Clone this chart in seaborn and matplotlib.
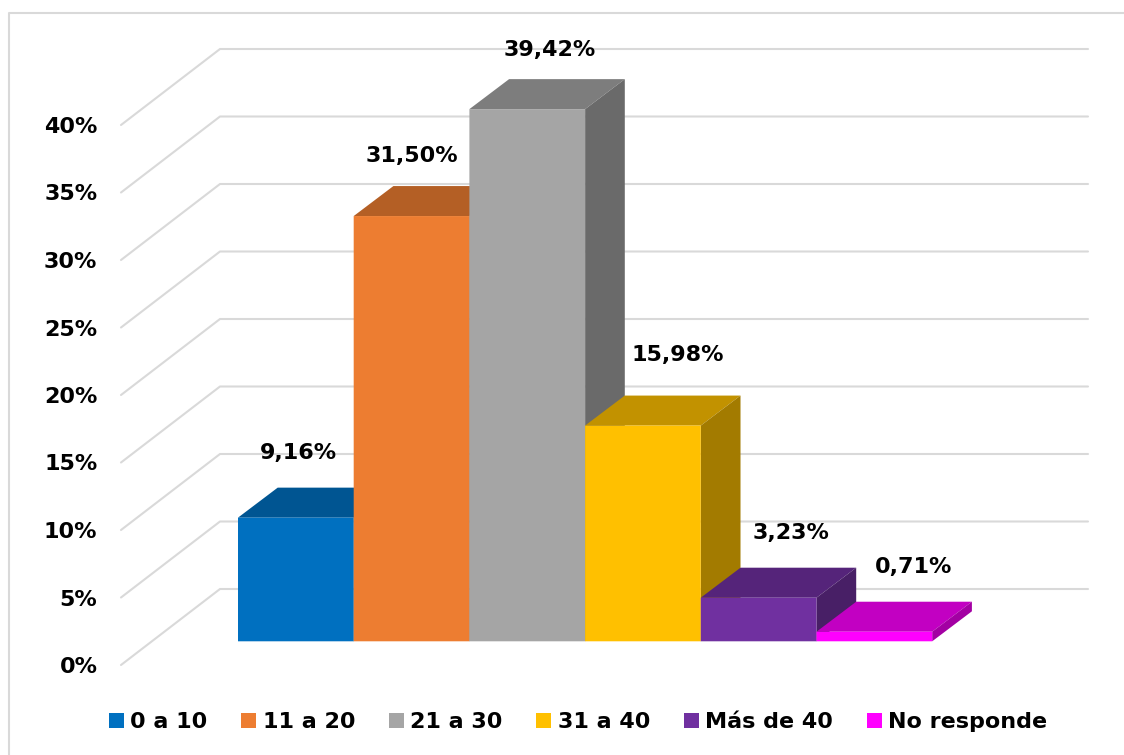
import matplotlib
matplotlib.use("Agg")
import matplotlib.pyplot as plt
import seaborn as sns
from matplotlib.colors import to_rgb
from matplotlib.lines import Line2D

# chart data
categories = ["0 a 10", "11 a 20", "21 a 30", "31 a 40", "Más de 40", "No responde"]
values = [9.16, 31.50, 39.42, 15.98, 3.23, 0.71]
value_labels = ["9,16%", "31,50%", "39,42%", "15,98%", "3,23%", "0,71%"]
ticks = [0, 5, 10, 15, 20, 25, 30, 35, 40]
colors = ["#0070C0", "#ED7D31", "#A5A5A5", "#FFC000", "#7030A0", "#FF00FF"]

# label nudges from the bar's front top corner centre, in pixels
label_dx = [3, 0, 22, 35, 32, 39]
label_dy = [65, 60, 59, 71, 65, 65]

W, H = 1124, 755
PX_PER_PCT = 13.5
PX_PER_CAT = 115.7
BASE_Y = 641.3  # pixel row of the bars' base
LEFT, RIGHT, BOTTOM, TOP = 121, 1088, 665, 45

# 3d look, in data units
bar_dx = 39.7 / PX_PER_CAT
bar_dy = 30 / PX_PER_PCT
wall_dx = 99 / PX_PER_CAT
front_shift = (BASE_Y - BOTTOM) / PX_PER_PCT
back_shift = (BASE_Y - 589) / PX_PER_PCT

sns.set_theme(style="white")
plt.rcParams["font.family"] = ["DejaVu Sans"]
plt.rcParams["font.weight"] = "bold"
FS = 16

fig = plt.figure(figsize=(W / 100, H / 100), dpi=100)
ax = fig.add_axes([LEFT / W, (H - BOTTOM) / H, (RIGHT - LEFT) / W, (BOTTOM - TOP) / H])

sns.barplot(x=categories, y=values, hue=categories, palette=colors, width=1,
            dodge=False, saturation=1, legend=True, linewidth=0, ax=ax)

x_left = (LEFT - 238) / PX_PER_CAT - 0.5
x_right = (RIGHT - 238) / PX_PER_CAT - 0.5
ax.set_xlim(x_left, x_right)
ax.set_ylim(front_shift, (BASE_Y - TOP) / PX_PER_PCT)
ax.set_xticks([])
ax.set_xlabel("")
ax.set_yticks([t + front_shift for t in ticks], [f"{t}%" for t in ticks])
ax.tick_params(axis="y", length=0, pad=17, labelsize=FS, labelcolor="black")
sns.despine(ax=ax, left=True, bottom=True)

# gridlines run along the side wall, then the back wall
for t in ticks:
    ax.plot([x_left, x_left + wall_dx, x_right],
            [t + front_shift, t + back_shift, t + back_shift],
            color="#D9D9D9", lw=1.5, zorder=1, clip_on=False)


def shade(color, k):
    return tuple(c * k for c in to_rgb(color))


for i, cont in enumerate(ax.containers):
    bar = cont[0]
    x0, w, h = bar.get_x(), bar.get_width(), bar.get_height()
    x1 = x0 + w
    bar.set_edgecolor("none")
    bar.set_snap(False)
    ax.fill([x0, x1, x1 + bar_dx, x0 + bar_dx], [h, h, h + bar_dy, h + bar_dy],
            color=shade(colors[i], 0.76), lw=0, zorder=3 + i, snap=False)
    ax.fill([x1, x1 + bar_dx, x1 + bar_dx, x1], [0, bar_dy, h + bar_dy, h],
            color=shade(colors[i], 0.64), lw=0, zorder=3 + i, snap=False)
    # front face goes on top of its own top and side polygons
    bar.set_zorder(3.5 + i)
    ax.annotate(value_labels[i], (x0 + w / 2, h),
                xytext=(label_dx[i] * 0.72, label_dy[i] * 0.72), textcoords="offset points",
                ha="center", va="center", fontsize=FS, fontweight="bold",
                color="black", zorder=20, annotation_clip=False)

leg = ax.legend(loc="center", bbox_to_anchor=(578 / W, (H - 722) / H),
                bbox_transform=fig.transFigure, ncols=6, frameon=False,
                fontsize=FS, handlelength=0.68, handleheight=0.68,
                handletextpad=0.3, columnspacing=1.5, borderpad=0, borderaxespad=0)
for txt in leg.get_texts():
    txt.set_color("black")
for patch in leg.get_patches():
    patch.set_edgecolor("none")

# chart frame, only top and left fall inside the crop
fig.add_artist(Line2D([8.5 / W, 8.5 / W, 1],
                      [0, (H - 13) / H, (H - 13) / H],
                      color="#D9D9D9", lw=1.5, transform=fig.transFigure))

fig.savefig("out.png", dpi=100)
